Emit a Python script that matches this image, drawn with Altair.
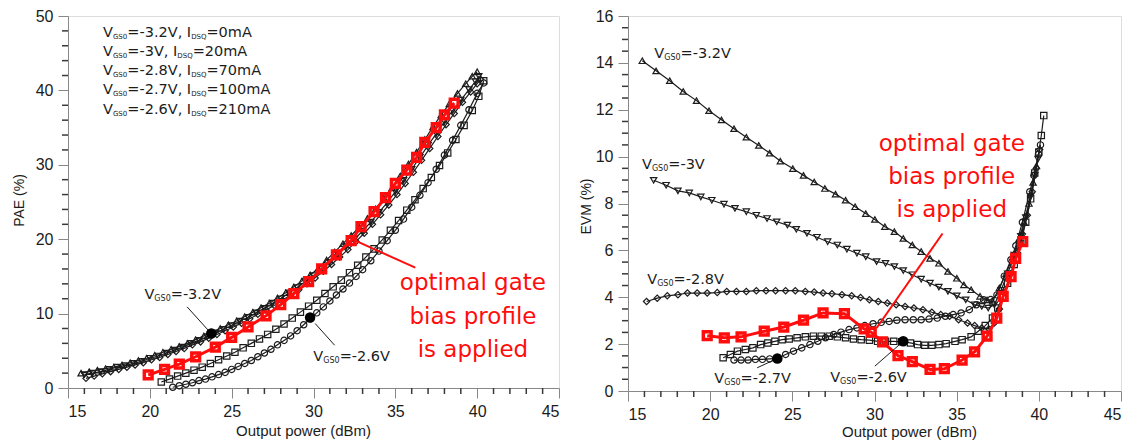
import altair as alt
import pandas as pd

# ---------------- PAE panel data (Output power dBm, PAE %) ----------------
PAE_TU_X = [15.8,16.3,16.8,17.3,17.8,18.3,18.8,19.3,19.8,20.3,20.8,21.3,21.8,22.3,22.8,23.3,23.8,24.3,24.8,25.3,25.8,26.3,26.8,27.3,27.8,28.3,28.8,29.3,29.8,30.3,30.8,31.3,31.8,32.3,32.8,33.3,33.8,34.3,34.8,35.3,35.8,36.3,36.8,37.3,37.8,38.3,38.8,39.3,39.7,40.0]
PAE_TU_Y = [2.0,2.2,2.4,2.6,2.8,3.1,3.4,3.7,4.0,4.4,4.8,5.2,5.6,6.0,6.5,7.0,7.5,8.0,8.5,9.0,9.6,10.2,10.8,11.4,12.1,12.8,13.6,14.4,15.2,16.1,17.2,18.3,19.4,20.5,21.6,22.8,24.1,25.5,26.9,28.5,30.1,31.7,33.4,35.1,36.7,38.2,39.6,40.9,41.9,42.5]
PAE_TD_X = [16.0,16.5,17.0,17.5,18.0,18.5,19.0,19.5,20.0,20.5,21.0,21.5,22.0,22.5,23.0,23.5,24.0,24.5,25.0,25.5,26.0,26.5,27.0,27.5,28.0,28.5,29.0,29.5,30.0,30.5,31.0,31.5,32.0,32.5,33.0,33.5,34.0,34.5,35.0,35.5,36.0,36.5,37.0,37.5,38.0,38.5,39.0,39.5,39.9,40.1]
PAE_TD_Y = [1.8,2.0,2.2,2.5,2.8,3.0,3.3,3.6,4.0,4.3,4.7,5.1,5.5,6.0,6.4,6.9,7.4,7.9,8.4,9.0,9.5,10.1,10.7,11.4,12.0,12.8,13.5,14.3,15.1,16.0,16.9,17.9,19.0,20.0,21.1,22.3,23.6,24.9,26.4,27.9,29.4,31.0,32.6,34.2,35.8,37.3,38.7,40.1,41.2,41.9]
PAE_DM_X = [16.1,16.6,17.1,17.6,18.1,18.6,19.1,19.6,20.1,20.6,21.1,21.6,22.1,22.6,23.1,23.6,24.1,24.6,25.1,25.6,26.1,26.6,27.1,27.6,28.1,28.6,29.1,29.6,30.1,30.6,31.1,31.6,32.1,32.6,33.1,33.6,34.1,34.6,35.1,35.6,36.1,36.6,37.1,37.6,38.1,38.6,39.1,39.6,40.0,40.2]
PAE_DM_Y = [1.3,1.6,1.9,2.2,2.5,2.8,3.1,3.4,3.8,4.1,4.5,4.9,5.3,5.8,6.2,6.7,7.2,7.7,8.2,8.7,9.3,9.9,10.5,11.1,11.8,12.5,13.2,14.0,14.8,15.7,16.6,17.6,18.6,19.7,20.8,22.0,23.3,24.6,26.0,27.5,29.0,30.6,32.2,33.8,35.4,36.9,38.4,39.8,40.9,41.5]
PAE_SQ_X = [20.7,21.2,21.7,22.2,22.7,23.2,23.7,24.2,24.7,25.2,25.7,26.2,26.7,27.2,27.7,28.2,28.7,29.2,29.7,30.2,30.7,31.2,31.7,32.2,32.7,33.2,33.7,34.2,34.7,35.2,35.7,36.2,36.7,37.2,37.7,38.2,38.7,39.2,39.7,40.1,40.4]
PAE_SQ_Y = [0.8,1.2,1.6,2.0,2.4,2.8,3.3,3.8,4.3,4.8,5.4,6.0,6.6,7.2,7.9,8.6,9.4,10.2,11.0,11.8,12.7,13.6,14.5,15.5,16.5,17.6,18.7,19.9,21.2,22.5,23.9,25.3,26.8,28.3,29.9,31.6,33.4,35.3,37.3,39.2,41.3]
PAE_CI_X = [21.4,21.8,22.2,22.6,23.0,23.4,23.8,24.2,24.6,25.0,25.4,25.8,26.2,26.6,27.0,27.4,27.8,28.2,28.6,29.0,29.4,29.8,30.2,30.6,31.0,31.4,31.8,32.2,32.6,33.0,33.5,34.0,34.5,35.0,35.5,36.0,36.5,37.0,37.5,38.0,38.5,39.0,39.5,40.0,40.4]
PAE_CI_Y = [0.1,0.3,0.5,0.7,1.0,1.2,1.5,1.8,2.1,2.5,2.9,3.3,3.7,4.2,4.7,5.2,5.8,6.4,7.0,7.7,8.5,9.3,10.1,10.9,11.7,12.5,13.3,14.1,15.0,15.9,17.1,18.4,19.8,21.2,22.7,24.3,25.9,27.6,29.4,31.3,33.3,35.3,37.4,39.6,41.0]
PAE_RED_X = [19.9,20.9,21.8,22.8,24.0,25.0,26.0,27.1,28.0,28.8,29.7,30.5,31.4,32.3,32.9,33.7,34.4,35.0,35.7,36.3,36.8,37.5,38.0,38.6]
PAE_RED_Y = [1.75,2.5,3.2,4.2,5.5,6.8,8.2,9.7,11.2,12.7,14.3,16.0,17.9,19.8,21.7,23.7,25.6,27.5,29.3,31.0,33.0,35.0,36.7,38.3]

# ---------------- EVM panel data (Output power dBm, EVM %) ----------------
EVM_TU_X = [15.87,16.71,17.54,18.36,19.17,19.93,20.69,21.45,22.2,22.96,23.62,24.27,25.03,25.68,26.33,26.98,27.63,28.24,28.82,29.47,30.02,30.63,31.21,31.75,32.3,32.84,33.38,33.92,34.47,35.01,35.44,35.88,36.42,36.85,37.18,37.6,38.0,38.4,38.8,39.1,39.4,39.65,39.85]
EVM_TU_Y = [14.09,13.66,13.24,12.78,12.39,11.96,11.57,11.19,10.83,10.48,10.15,9.81,9.49,9.20,8.92,8.64,8.40,8.14,7.86,7.57,7.32,7.01,6.80,6.51,6.23,5.95,5.66,5.45,5.10,4.81,4.53,4.32,4.04,3.89,3.82,4.4,5.0,5.7,6.5,7.2,8.0,8.9,9.6]
EVM_TD_X = [16.56,17.32,18.04,18.73,19.43,20.1,20.84,21.51,22.2,22.81,23.46,24.05,24.7,25.24,25.89,26.5,27.15,27.74,28.32,28.93,29.47,30.13,30.67,31.21,31.75,32.3,32.84,33.38,33.92,34.47,35.01,35.55,36.09,36.53,36.92,37.29,37.7,38.1,38.5,38.9,39.2,39.5,39.75,39.95]
EVM_TD_Y = [8.99,8.78,8.54,8.45,8.28,8.14,7.97,7.79,7.65,7.50,7.36,7.22,7.08,6.90,6.73,6.56,6.37,6.23,6.05,5.88,5.73,5.52,5.45,5.31,5.14,4.96,4.77,4.60,4.43,4.25,4.06,3.89,3.68,3.61,3.54,3.68,4.3,5.0,5.8,6.6,7.4,8.3,9.2,9.9]
EVM_DM_X = [16.13,16.78,17.39,18.04,18.62,19.21,19.82,20.43,21.01,21.6,22.2,22.81,23.4,23.98,24.59,25.18,25.79,26.33,26.87,27.41,28.02,28.61,29.15,29.69,30.23,30.78,31.32,31.86,32.4,32.95,33.49,34.03,34.57,35.12,35.66,36.09,36.53,36.96,37.29,37.6,37.9,38.3,38.7,39.0,39.3,39.6,39.85,40.05]
EVM_DM_Y = [3.82,3.96,4.06,4.11,4.18,4.18,4.18,4.20,4.25,4.25,4.25,4.28,4.28,4.28,4.28,4.28,4.25,4.22,4.18,4.15,4.11,4.06,3.99,3.89,3.82,3.75,3.68,3.61,3.54,3.47,3.36,3.26,3.19,3.04,2.90,2.79,2.69,2.65,2.90,3.5,4.2,5.0,5.9,6.7,7.5,8.5,9.5,10.3]
EVM_SQ_X = [20.79,21.23,21.66,22.14,22.6,23.07,23.51,23.94,24.38,24.81,25.29,25.79,26.28,26.76,27.24,27.74,28.24,28.72,29.19,29.69,30.19,30.67,31.17,31.65,32.19,32.62,33.06,33.49,33.92,34.36,34.9,35.33,35.88,36.31,36.74,37.18,37.5,37.8,38.1,38.5,38.9,39.2,39.5,39.75,40.0,40.15,40.3]
EVM_SQ_Y = [1.42,1.56,1.70,1.77,1.84,1.98,2.05,2.12,2.19,2.22,2.27,2.31,2.34,2.34,2.34,2.31,2.27,2.22,2.19,2.17,2.12,2.12,2.12,2.10,2.05,1.98,1.95,1.95,1.98,2.02,2.12,2.19,2.31,2.55,2.79,3.11,3.54,4.0,4.6,5.4,6.3,7.2,8.2,9.3,10.2,10.9,11.75]
EVM_CI_X = [21.45,21.88,22.31,22.75,23.18,23.62,24.09,24.59,25.07,25.57,26.07,26.55,27.02,27.52,27.96,28.45,28.93,29.41,29.91,30.41,30.89,31.36,31.86,32.36,32.84,33.32,33.82,34.31,34.79,35.27,35.77,36.2,36.64,37.07,37.45,37.9,38.3,38.6,39.0,39.45,39.7,39.98,40.1]
EVM_CI_Y = [1.32,1.32,1.32,1.35,1.35,1.37,1.39,1.56,1.70,1.84,1.98,2.12,2.27,2.41,2.51,2.62,2.69,2.79,2.87,2.93,2.97,3.02,3.04,3.04,3.04,3.07,3.11,3.19,3.26,3.33,3.47,3.68,3.89,3.90,4.1,4.9,5.6,6.2,7.2,8.5,9.2,10.1,10.5]
EVM_RED_X = [19.82,20.86,21.88,23.29,24.48,25.68,26.87,28.17,29.37,29.8,30.49,31.43,32.3,33.38,34.25,35.33,36.09,36.85,37.44,37.83,38.31,38.59,39.02]
EVM_RED_Y = [2.36,2.27,2.31,2.55,2.73,3.02,3.33,3.30,2.65,2.51,2.10,1.51,1.25,0.92,0.95,1.32,1.67,2.34,3.11,4.04,4.88,5.66,6.37]

# ---------------- axis ticks ----------------
X_MAJOR = [15, 20, 25, 30, 35, 40, 45]
X_MINOR = [v for v in range(15, 46) if v % 5 != 0]
PAE_MAJOR = [0, 10, 20, 30, 40, 50]
PAE_MINOR = [v for v in range(0, 51, 2) if v % 10 != 0]
EVM_MAJOR = [0, 2, 4, 6, 8, 10, 12, 14, 16]
EVM_MINOR = [v / 2 for v in range(0, 33) if v % 4 != 0]

# ---------------- text ----------------
LEGEND_LINES = [
    [("V", 0), ("GS0", 1), ("=-3.2V, I", 0), ("DSQ", 1), ("=0mA", 0)],
    [("V", 0), ("GS0", 1), ("=-3V, I", 0), ("DSQ", 1), ("=20mA", 0)],
    [("V", 0), ("GS0", 1), ("=-2.8V, I", 0), ("DSQ", 1), ("=70mA", 0)],
    [("V", 0), ("GS0", 1), ("=-2.7V, I", 0), ("DSQ", 1), ("=100mA", 0)],
    [("V", 0), ("GS0", 1), ("=-2.6V, I", 0), ("DSQ", 1), ("=210mA", 0)],
]
LEGEND_X = 17.14
LEGEND_Y = [47.75, 45.1, 42.6, 40.0, 37.4]
RED_TEXT = ["optimal gate", "bias profile", "is applied"]

BLACK = "#1c1c1c"
RED = "#ff0d0d"
AXIS_GREY = "#3a3a3a"
TXT_FONT = "DejaVu Sans"
TICK_FONT = "Liberation Sans"
TITLE_FONT = "Liberation Sans"

W = {'V': 1401, 'G': 1589, 'S': 1300, '=': 1716, '-': 739, '.': 651, ',': 651, ' ': 651,
     'I': 604, 'D': 1577, 'Q': 1612, 'm': 1995, 'A': 1401}


def text_width(s, size):
    return sum(W.get(c, 1303) for c in s) / 2048.0 * size


def seg_rows(parts, x0, y0, f, s, ppd):
    rows = []
    px = 0.0
    for txt, sub in parts:
        size = s if sub else f
        rows.append({"x": x0 + px / ppd, "y": y0, "t": txt, "size": size, "sub": sub})
        px += text_width(txt, size)
    return rows


def vlabel(volt):
    return [("V", 0), ("GS0", 1), ("=" + volt, 0)]


def series_df(spec):
    rows = []
    for name, xs, ys in spec:
        for a, b in zip(xs, ys):
            rows.append({"x": a, "y": b, "s": name})
    return pd.DataFrame(rows)


SHAPES = ["triangle-up", "triangle-down", "diamond", "square", "circle"]
NAMES = ["tu", "td", "dm", "sq", "ci"]


def panel(black_spec, red_x, red_y, ydom, ymajor, yminor, ytitle, w, h, ppd,
          xtitle_x, xtitle_y, ytitle_x, ytitle_y, texts, red_txt_pos, red_line, black_lines, dots):
    xs = alt.Scale(domain=[15, 45], nice=False, zero=False)
    ys = alt.Scale(domain=ydom, nice=False, zero=False)

    def X(axis=None, field="x"):
        return alt.X(field, type="quantitative", scale=xs, axis=axis)

    def Y(axis=None, field="y"):
        return alt.Y(field, type="quantitative", scale=ys, axis=axis)

    ax_major_x = alt.Axis(values=X_MAJOR, tickSize=10, grid=False, title="Output power (dBm)",
                          orient="bottom", format="d", labelFont=TICK_FONT, labelFontSize=16,
                          labelColor=BLACK, labelPadding=5, titleFont=TITLE_FONT, titleFontSize=15,
                          titleColor=BLACK, titleFontWeight="normal", titleX=xtitle_x, titleY=xtitle_y,
                          titleBaseline="middle", titleAlign="center")
    ax_major_y = alt.Axis(values=ymajor, tickSize=10, grid=False, title=ytitle, orient="left",
                          format="d", labelFont=TICK_FONT, labelFontSize=16, labelColor=BLACK,
                          labelPadding=5, titleFont=TITLE_FONT, titleFontSize=14, titleColor=BLACK,
                          titleFontWeight="normal", titleX=ytitle_x, titleY=ytitle_y,
                          titleAngle=270, titleBaseline="middle", titleAlign="center")

    bdf = series_df(black_spec)
    rdf = pd.DataFrame({"x": red_x, "y": red_y})

    lines = alt.Chart(bdf).mark_line(color=BLACK, strokeWidth=1.2).encode(
        x=X(ax_major_x), y=Y(ax_major_y), detail="s:N")
    pts = alt.Chart(bdf).mark_point(filled=False, color=BLACK, strokeWidth=1.2, size=40, opacity=1).encode(
        x=X(), y=Y(),
        shape=alt.Shape("s:N", scale=alt.Scale(domain=NAMES, range=SHAPES), legend=None))
    rline = alt.Chart(rdf).mark_line(color=RED, strokeWidth=3).encode(x=X(), y=Y())
    rpts = alt.Chart(rdf).mark_point(shape="square", filled=False, color=RED, strokeWidth=3.5,
                                     size=60, opacity=1).encode(x=X(), y=Y())

    # minor ticks drawn as short rules just outside the axes
    xmin_df = pd.DataFrame({"x": X_MINOR})
    xminor = alt.Chart(xmin_df).mark_rule(color=AXIS_GREY, strokeWidth=1.5).encode(
        x=X(), y=alt.value(h), y2=alt.value(h + 6))
    ymin_df = pd.DataFrame({"y": yminor})
    yminor_r = alt.Chart(ymin_df).mark_rule(color=AXIS_GREY, strokeWidth=1.5).encode(
        y=Y(), x=alt.value(0), x2=alt.value(-6))

    # annotation leader lines
    bl = pd.DataFrame(black_lines, columns=["x", "y", "x2", "y2"])
    bl_rule = alt.Chart(bl).mark_rule(color=BLACK, strokeWidth=1).encode(
        x=X(), y=Y(), x2="x2:Q", y2="y2:Q")
    rl = pd.DataFrame([red_line], columns=["x", "y", "x2", "y2"])
    rl_rule = alt.Chart(rl).mark_rule(color=RED, strokeWidth=2).encode(
        x=X(), y=Y(), x2="x2:Q", y2="y2:Q")
    ddf = pd.DataFrame(dots, columns=["x", "y"])
    dot = alt.Chart(ddf).mark_point(filled=True, color="black", size=110, opacity=1).encode(
        x=X(), y=Y())

    # label texts with subscripts
    rows = []
    for parts, x0, y0, f, s in texts:
        rows += seg_rows(parts, x0, y0, f, s, ppd)
    tdf = pd.DataFrame(rows)
    tmain = alt.Chart(tdf[tdf["sub"] == 0]).mark_text(
        align="left", baseline="middle", font=TXT_FONT, color=BLACK).encode(
        x=X(), y=Y(), text="t:N", size=alt.Size("size:Q", scale=None))
    tsub = alt.Chart(tdf[tdf["sub"] == 1]).mark_text(
        align="left", baseline="middle", font=TXT_FONT, color=BLACK, dy=4).encode(
        x=X(), y=Y(), text="t:N", size=alt.Size("size:Q", scale=None))

    rx, rys = red_txt_pos
    red_df = pd.DataFrame({"x": [rx] * 3, "y": rys, "t": RED_TEXT})
    rtxt = alt.Chart(red_df).mark_text(align="center", baseline="middle", font=TXT_FONT,
                                       fontSize=23, color=RED).encode(x=X(), y=Y(), text="t:N")

    return alt.layer(lines, pts, rline, rpts, xminor, yminor_r, bl_rule, rl_rule, dot,
                     tmain, tsub, rtxt).resolve_axis(
        x="independent", y="independent").properties(width=w, height=h)


# ---------- left panel ----------
PPD_L = 491 / 30.0
left_texts = [(LEGEND_LINES[i], LEGEND_X, LEGEND_Y[i], 14.5, 7) for i in range(5)]
left_texts += [(vlabel("-3.2V"), 19.67, 12.5, 14.5, 8), (vlabel("-2.6V"), 29.99, 4.18, 14.5, 8)]
left = panel(
    [("tu", PAE_TU_X, PAE_TU_Y), ("td", PAE_TD_X, PAE_TD_Y), ("dm", PAE_DM_X, PAE_DM_Y),
     ("sq", PAE_SQ_X, PAE_SQ_Y), ("ci", PAE_CI_X, PAE_CI_Y)],
    PAE_RED_X, PAE_RED_Y, [0, 50], PAE_MAJOR, PAE_MINOR, "PAE (%)", 491, 372, PPD_L,
    235, 42, -49, 184, left_texts, (39.74, [14.06, 9.57, 5.08]),
    (32.59, 19.77, 36.22, 16.17),
    [(22.28, 10.9, 23.75, 7.32), (30.1, 8.67, 31.29, 5.75)],
    [(23.75, 7.32), (29.79, 9.48)])

# ---------- right panel ----------
PPD_R = 493 / 30.0
right_texts = [(vlabel("-3.2V"), 16.6, 14.37, 14.5, 8), (vlabel("-3V"), 15.85, 9.63, 14.5, 8),
               (vlabel("-2.8V"), 16.17, 4.74, 14.5, 8), (vlabel("-2.7V"), 20.25, 0.5, 14.5, 8),
               (vlabel("-2.6V"), 27.3, 0.57, 14.5, 8)]
right = panel(
    [("tu", EVM_TU_X, EVM_TU_Y), ("td", EVM_TD_X, EVM_TD_Y), ("dm", EVM_DM_X, EVM_DM_Y),
     ("sq", EVM_SQ_X, EVM_SQ_Y), ("ci", EVM_CI_X, EVM_CI_Y)],
    EVM_RED_X, EVM_RED_Y, [0, 16], EVM_MAJOR, EVM_MINOR, "EVM (%)", 493, 375, PPD_R,
    281, 40, -42, 190, right_texts, (34.7, [10.55, 9.13, 7.74]),
    (34.14, 6.72, 30.13, 2.69),
    [(22.86, 0.99, 24.09, 1.39), (30.02, 1.06, 31.75, 2.12)],
    [(24.09, 1.39), (31.75, 2.12)])

chart = alt.hconcat(left, right, spacing=18).properties(
    padding={"left": 11, "top": 7, "right": 2, "bottom": 2}
).configure_view(stroke=AXIS_GREY, strokeWidth=1.5).configure_axis(
    domainColor=AXIS_GREY, domainWidth=1.5, tickColor=AXIS_GREY, tickWidth=1.5
).configure(background="white")

chart.save("out.html", embed_options={"renderer": "svg", "actions": False})
